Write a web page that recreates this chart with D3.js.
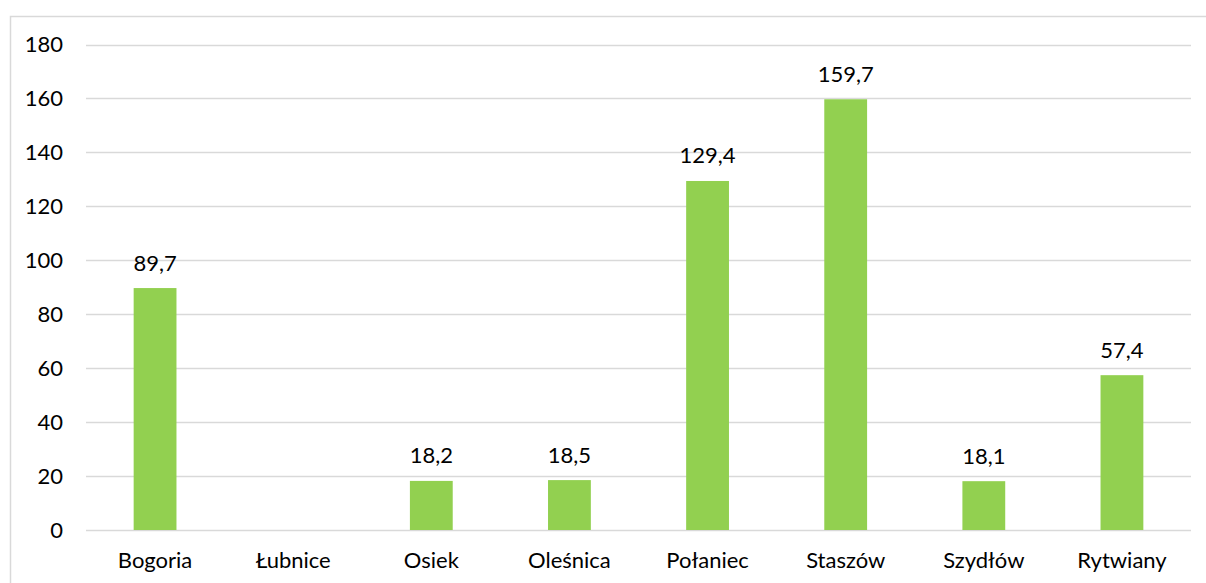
<!DOCTYPE html>
<html>
<head>
<meta charset="utf-8">
<script src="https://cdn.jsdelivr.net/npm/d3@7"></script>
<style>
  html, body { margin: 0; padding: 0; background: #fff; }
  svg { display: block; font-family: Lato, "Open Sans", sans-serif; }
</style>
</head>
<body>
<svg id="chart" width="1206" height="583"></svg>
<script>
const categories = ["Bogoria", "Łubnice", "Osiek", "Oleśnica", "Połaniec", "Staszów", "Szydłów", "Rytwiany"];
const values = [89.7, null, 18.2, 18.5, 129.4, 159.7, 18.1, 57.4];
const yTicks = [0, 20, 40, 60, 80, 100, 120, 140, 160, 180];

const svg = d3.select("#chart");
const W = 1206, H = 583;
const plot = { left: 86, right: 1191, top: 44.5, bottom: 530 };
const FONT = 22;

// outer frame
svg.append("rect")
  .attr("x", 10.5).attr("y", 16.5)
  .attr("width", W + 10).attr("height", H + 10)
  .attr("fill", "#fff").attr("stroke", "#d9d9d9").attr("stroke-width", 1.5);

const x = d3.scaleBand().domain(categories).range([plot.left, plot.right]).paddingInner(0.69).paddingOuter(0.345);
const y = d3.scaleLinear().domain([0, 180]).range([plot.bottom, plot.top]);

// horizontal gridlines
svg.append("g").selectAll("line").data(yTicks).join("line")
  .attr("x1", plot.left).attr("x2", plot.right)
  .attr("y1", d => Math.round(y(d)) + 0.5).attr("y2", d => Math.round(y(d)) + 0.5)
  .attr("stroke", "#d9d9d9").attr("stroke-width", 1.5);

// y axis labels
const yAxis = d3.axisLeft(y).tickValues(yTicks).tickSize(0).tickPadding(0);
const gy = svg.append("g").attr("transform", "translate(63,0)").call(yAxis);
gy.select(".domain").remove();
gy.selectAll("text").attr("font-size", FONT).attr("fill", "#000").attr("font-family", "Lato, sans-serif");

// x axis labels
const xAxis = d3.axisBottom(x).tickSize(0).tickPadding(0);
const gx = svg.append("g").attr("transform", `translate(0,${plot.bottom})`).call(xAxis);
gx.select(".domain").remove();
gx.selectAll("text").attr("y", 38).attr("dy", null)
  .attr("font-size", FONT).attr("fill", "#000").attr("font-family", "Lato, sans-serif");

const data = categories.map((c, i) => ({ c, v: values[i] })).filter(d => d.v != null);
const fmt = d3.formatLocale({ decimal: ",", thousands: " ", grouping: [3], currency: ["", " zł"] }).format(".1f");

// bars
svg.append("g").selectAll("rect").data(data).join("rect")
  .attr("x", d => x(d.c)).attr("width", x.bandwidth())
  .attr("y", d => y(d.v)).attr("height", d => y(0) - y(d.v))
  .attr("fill", "#92d050");

// value labels
svg.append("g").selectAll("text").data(data).join("text")
  .attr("x", d => x(d.c) + x.bandwidth() / 2)
  .attr("y", d => y(d.v) - 17.5)
  .attr("text-anchor", "middle")
  .attr("font-size", FONT).attr("fill", "#000")
  .text(d => fmt(d.v));
</script>
</body>
</html>
